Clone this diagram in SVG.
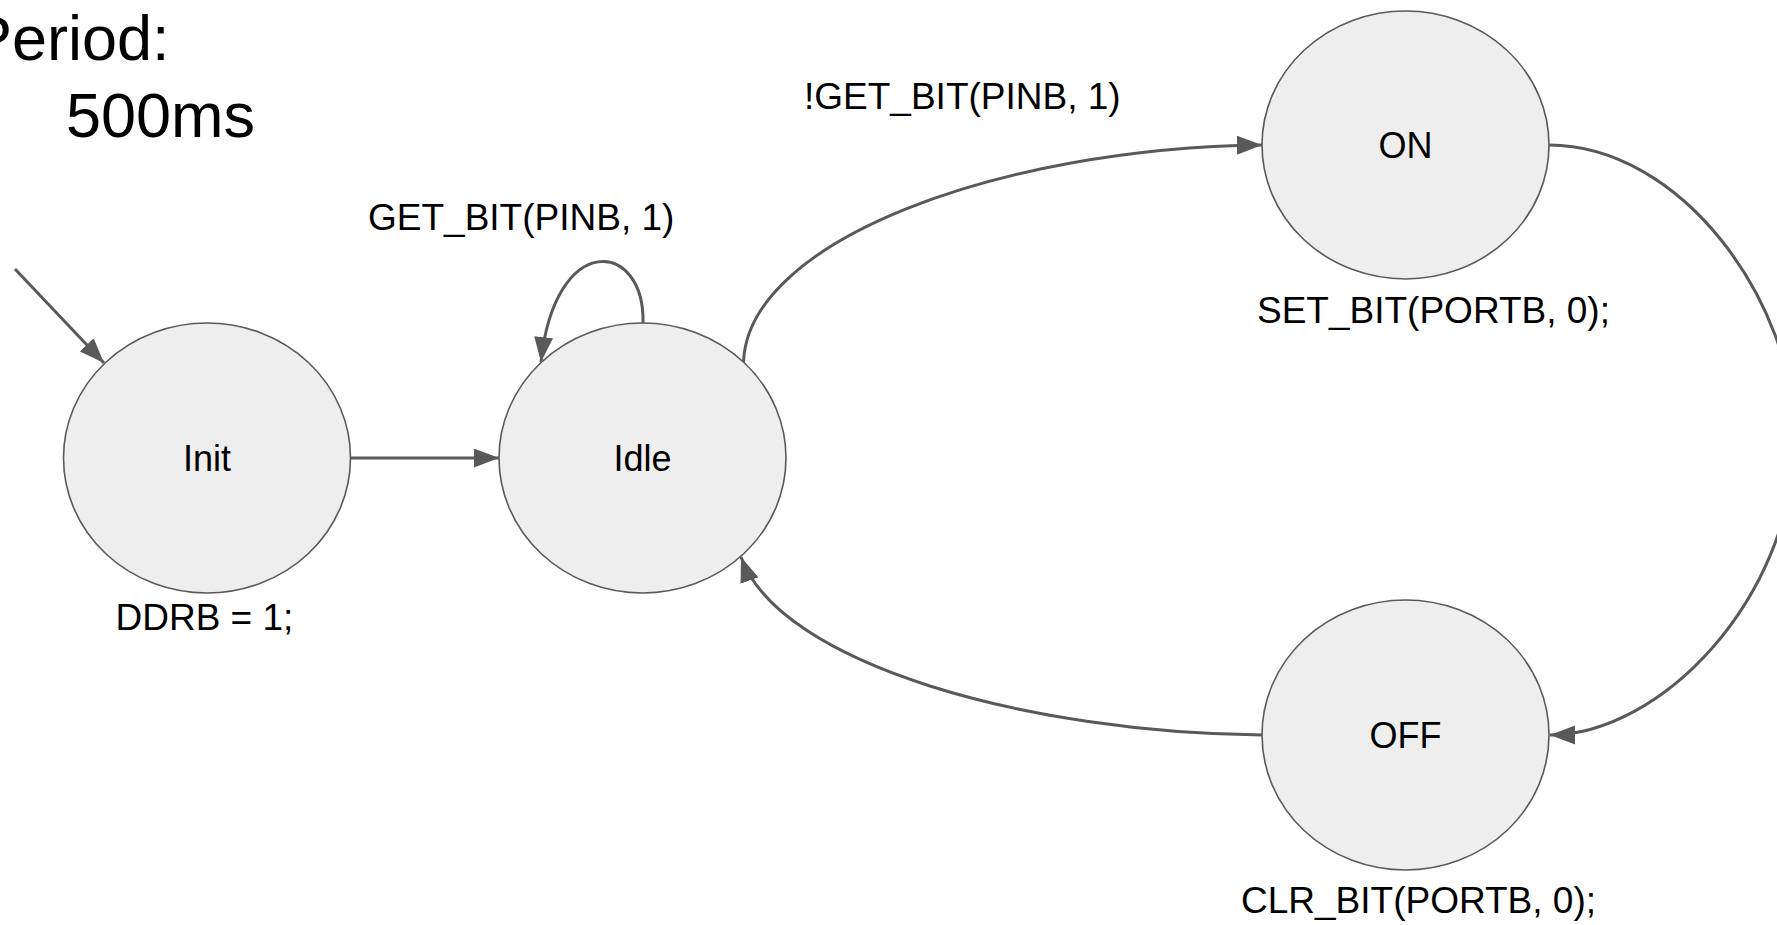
<svg xmlns="http://www.w3.org/2000/svg" width="1777" height="925" viewBox="0 0 1777 925">
<defs>
<style>
.node{fill:#eeeeee;stroke:#595959;stroke-width:1.6}
.lbl{font-family:"Liberation Sans",Arial,sans-serif;font-size:36px;fill:#000;text-anchor:middle}
.txt{font-family:"Liberation Sans",Arial,sans-serif;font-size:37px;fill:#000}
.big{font-family:"Liberation Sans",Arial,sans-serif;font-size:63px;fill:#000}
.edge{fill:none;stroke:#595959;stroke-width:3;marker-end:url(#arrow)}
</style>
<marker id="arrow" markerUnits="userSpaceOnUse" markerWidth="26" markerHeight="20" refX="25" refY="9.5" orient="auto">
<path d="M0,0 L25,9.5 L0,19 z" fill="#595959"/>
</marker>
</defs>
<rect width="1777" height="925" fill="#ffffff"/>
<text class="big" x="-30" y="60">Period:</text>
<text class="big" x="66" y="137">500ms</text>
<g id="connectors">
<path class="edge" d="M15,269 L104,363"/>
<path class="edge" d="M351,458 L499,458"/>
<path class="edge" d="M643,323 C645,240 555,230 541,362"/>
<path class="edge" d="M743.5,362 C748,240 1000,148 1262,145"/>
<path class="edge" d="M1549,145 C1680,145 1795,300 1795,440 C1792,600 1660,735 1550,735"/>
<path class="edge" d="M1262,735 C1030,733 780,665 741,557"/>
</g>
<g id="node-init">
<ellipse class="node" cx="207" cy="458" rx="143.5" ry="135"/>
<text class="lbl" x="207" y="471">Init</text>
<text class="txt" x="115.5" y="630">DDRB = 1;</text>
</g>
<g id="node-idle">
<ellipse class="node" cx="642.5" cy="458" rx="143.5" ry="135"/>
<text class="lbl" x="642.5" y="471">Idle</text>
</g>
<g id="node-on">
<ellipse class="node" cx="1405.5" cy="145" rx="143.5" ry="134"/>
<text class="lbl" x="1405.5" y="158">ON</text>
<text class="txt" x="1257" y="323">SET_BIT(PORTB, 0);</text>
</g>
<g id="node-off">
<ellipse class="node" cx="1405.5" cy="735" rx="143.5" ry="135"/>
<text class="lbl" x="1405.5" y="748">OFF</text>
<text class="txt" x="1241" y="913">CLR_BIT(PORTB, 0);</text>
</g>
<g id="edge-labels">
<text class="txt" x="368" y="230">GET_BIT(PINB, 1)</text>
<text class="txt" x="804" y="109">!GET_BIT(PINB, 1)</text>
</g>
</svg>
